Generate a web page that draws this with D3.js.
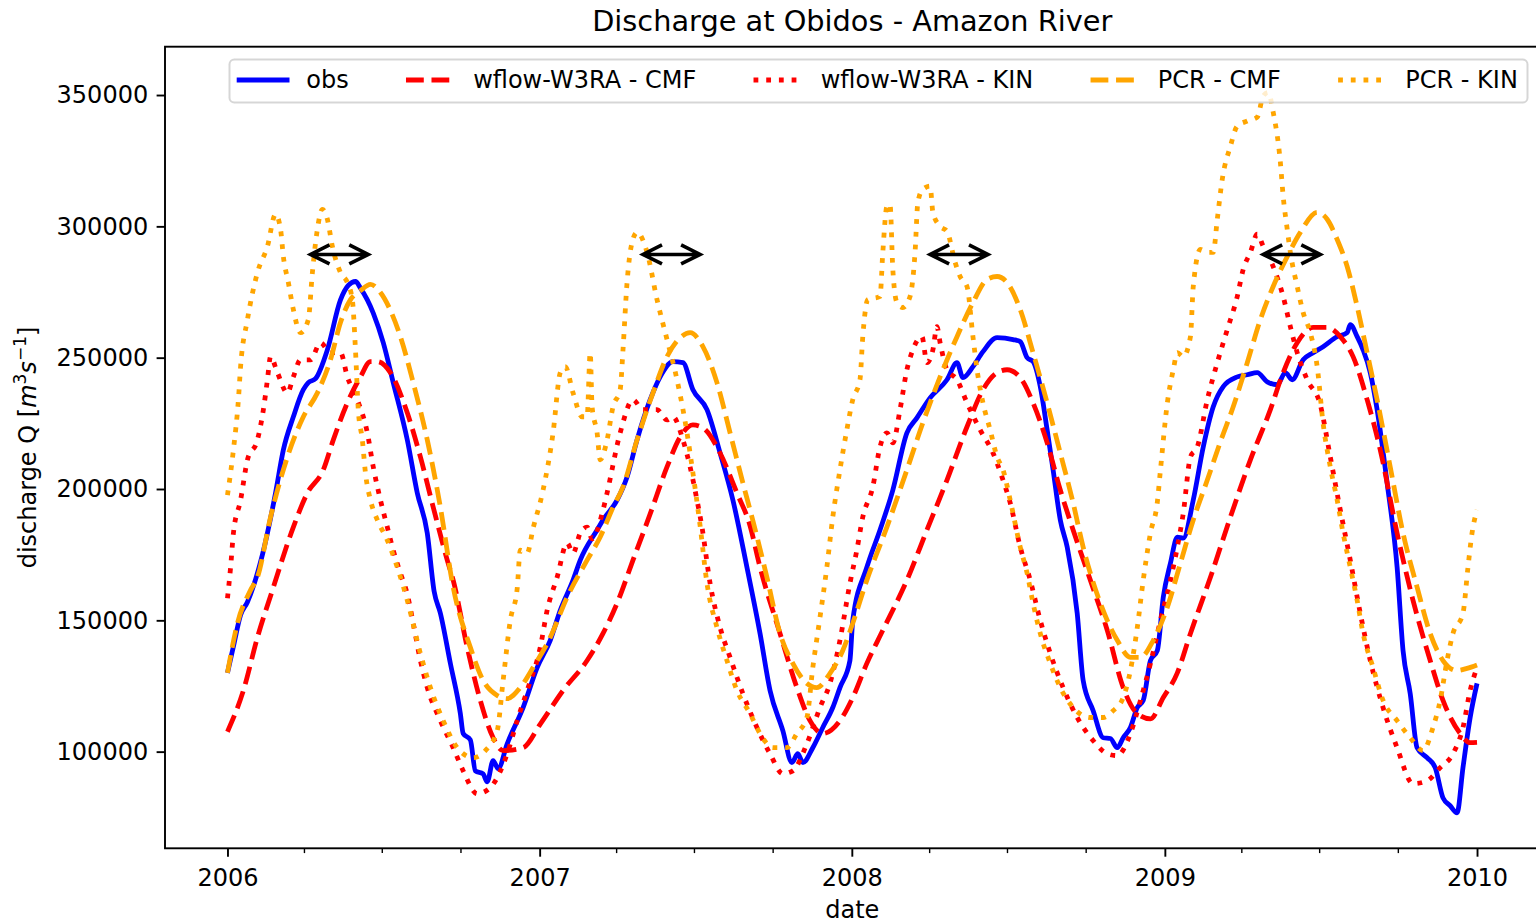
<!DOCTYPE html>
<html>
<head>
<meta charset="utf-8">
<script src="https://cdnjs.cloudflare.com/ajax/libs/d3/7.8.5/d3.min.js"></script>
<style>
  body { margin: 0; background: #fff; }
  svg { font-family: "DejaVu Sans", sans-serif; }
</style>
</head>
<body>
<svg id="chart" width="1536" height="923"></svg>
<script>
// times are decimal years, values in m3/s

var obs = [[2006.000,130000],[2006.019,140000],[2006.042,152000],[2006.064,157000],[2006.112,175000],[2006.154,198500],[2006.179,214900],[2006.211,227500],[2006.243,237800],[2006.259,240500],[2006.282,242000],[2006.320,253000],[2006.362,272000],[2006.387,277500],[2006.410,279000],[2006.426,276500],[2006.467,267000],[2006.499,255700],[2006.531,240500],[2006.576,218700],[2006.608,198500],[2006.640,183200],[2006.662,161000],[2006.682,152700],[2006.714,133600],[2006.746,114500],[2006.755,106900],[2006.778,104500],[2006.794,92700],[2006.819,91500],[2006.832,88500],[2006.851,96600],[2006.867,93500],[2006.896,103000],[2006.947,116800],[2006.992,132000],[2007.034,142400],[2007.066,153800],[2007.107,165300],[2007.130,172900],[2007.184,184400],[2007.203,188200],[2007.248,195800],[2007.280,204600],[2007.312,218700],[2007.354,234000],[2007.386,242700],[2007.427,248500],[2007.459,248100],[2007.491,237800],[2007.536,230200],[2007.578,213700],[2007.619,195800],[2007.664,170200],[2007.706,145000],[2007.738,123300],[2007.779,108000],[2007.808,95800],[2007.827,99200],[2007.843,95800],[2007.875,101500],[2007.907,109200],[2007.939,116800],[2007.962,124400],[2007.994,134700],[2008.003,150000],[2008.048,170200],[2008.090,184400],[2008.131,199600],[2008.176,221400],[2008.208,227100],[2008.250,234700],[2008.304,241600],[2008.336,248100],[2008.355,242400],[2008.387,246600],[2008.419,252300],[2008.464,257600],[2008.515,256900],[2008.538,256100],[2008.560,250000],[2008.579,248500],[2008.602,239000],[2008.624,222500],[2008.643,207300],[2008.666,188200],[2008.688,177900],[2008.720,152700],[2008.739,127100],[2008.771,115600],[2008.803,105300],[2008.826,105000],[2008.848,101500],[2008.867,105300],[2008.890,109200],[2008.912,116800],[2008.931,119500],[2008.954,134700],[2008.976,138500],[2008.995,158800],[2009.018,171800],[2009.040,181700],[2009.059,181300],[2009.091,195800],[2009.123,216000],[2009.155,231300],[2009.187,239000],[2009.232,242700],[2009.264,243500],[2009.296,244300],[2009.328,240800],[2009.360,239700],[2009.386,244300],[2009.408,241600],[2009.443,249200],[2009.475,251900],[2009.507,254200],[2009.552,258000],[2009.584,259500],[2009.594,262600],[2009.616,258000],[2009.635,253000],[2009.658,244300],[2009.680,230200],[2009.712,202300],[2009.744,170200],[2009.763,138500],[2009.786,122100],[2009.808,101500],[2009.840,97700],[2009.866,93900],[2009.891,82400],[2009.914,79400],[2009.936,76700],[2009.955,93900],[2009.978,113000],[2010.000,126000]];

var wflowCMF = [[2006.000,107600],[2006.051,123300],[2006.096,143500],[2006.144,161500],[2006.211,185500],[2006.256,198500],[2006.307,207300],[2006.339,218700],[2006.384,232800],[2006.426,242700],[2006.458,248500],[2006.480,248500],[2006.522,244300],[2006.576,229000],[2006.618,212200],[2006.659,193100],[2006.704,172900],[2006.723,165300],[2006.768,139700],[2006.810,119500],[2006.851,105300],[2006.883,100400],[2006.947,101500],[2007.002,110500],[2007.075,123300],[2007.152,134700],[2007.203,145000],[2007.248,156500],[2007.299,172900],[2007.354,190500],[2007.408,208400],[2007.450,219800],[2007.491,224400],[2007.523,223300],[2007.578,213700],[2007.632,198500],[2007.674,186000],[2007.706,170200],[2007.770,145000],[2007.824,124400],[2007.866,111800],[2007.907,106900],[2007.962,111800],[2008.003,120600],[2008.048,133600],[2008.099,146200],[2008.176,165300],[2008.240,184400],[2008.304,203400],[2008.368,223700],[2008.419,237800],[2008.464,244300],[2008.496,245400],[2008.538,242400],[2008.579,232800],[2008.624,217600],[2008.666,199600],[2008.707,184400],[2008.762,165300],[2008.816,146200],[2008.867,124400],[2008.912,114500],[2008.954,112500],[2008.995,120600],[2009.040,130000],[2009.082,145000],[2009.146,166400],[2009.210,189300],[2009.274,211100],[2009.338,230200],[2009.379,244300],[2009.424,255700],[2009.475,261500],[2009.520,261500],[2009.562,258000],[2009.603,250400],[2009.648,234000],[2009.690,214900],[2009.744,183200],[2009.795,157600],[2009.850,134700],[2009.891,119500],[2009.946,106900],[2009.978,103400],[2010.000,103500]];

var wflowKIN = [[2006.000,158400],[2006.010,170200],[2006.019,183200],[2006.042,195800],[2006.064,211100],[2006.096,218700],[2006.115,230200],[2006.128,241600],[2006.138,250400],[2006.160,244300],[2006.192,236600],[2006.211,242700],[2006.234,249200],[2006.266,249200],[2006.298,255700],[2006.330,251900],[2006.362,251900],[2006.384,242700],[2006.416,234000],[2006.448,221400],[2006.467,208400],[2006.490,195800],[2006.512,185500],[2006.531,176700],[2006.554,167900],[2006.576,160000],[2006.595,148900],[2006.618,134700],[2006.640,124400],[2006.682,111800],[2006.723,101500],[2006.755,92700],[2006.800,84000],[2006.842,86300],[2006.864,90100],[2006.896,99200],[2006.928,111800],[2006.960,123300],[2007.002,139700],[2007.024,153800],[2007.056,166400],[2007.088,179400],[2007.107,175600],[2007.130,183200],[2007.152,185500],[2007.168,181000],[2007.203,192000],[2007.216,198500],[2007.258,221400],[2007.299,234000],[2007.331,230200],[2007.376,230200],[2007.408,226300],[2007.427,227500],[2007.459,218700],[2007.482,208400],[2007.504,195800],[2007.520,185500],[2007.546,164100],[2007.578,147300],[2007.610,135900],[2007.651,122100],[2007.696,109200],[2007.738,99200],[2007.779,91600],[2007.811,92700],[2007.856,103000],[2007.898,116800],[2007.930,126000],[2007.962,142400],[2007.994,164100],[2008.016,176700],[2008.035,189300],[2008.067,200800],[2008.090,216000],[2008.112,221400],[2008.131,217600],[2008.154,230200],[2008.176,245400],[2008.195,253000],[2008.224,258000],[2008.240,248100],[2008.259,253000],[2008.272,261800],[2008.282,255700],[2008.304,245400],[2008.336,241600],[2008.368,232800],[2008.410,222500],[2008.451,213700],[2008.483,203400],[2008.506,194700],[2008.538,177900],[2008.570,165300],[2008.602,150000],[2008.634,137400],[2008.675,124400],[2008.720,113000],[2008.771,104200],[2008.816,99200],[2008.848,98500],[2008.890,106900],[2008.922,119500],[2008.954,133600],[2008.986,150000],[2009.018,165300],[2009.040,177900],[2009.059,190800],[2009.082,212200],[2009.104,216000],[2009.136,234000],[2009.168,248100],[2009.200,260700],[2009.232,273300],[2009.251,283600],[2009.274,290100],[2009.296,297000],[2009.315,292400],[2009.347,284700],[2009.379,273300],[2009.402,261800],[2009.424,251900],[2009.456,241600],[2009.498,232000],[2009.530,212200],[2009.562,192000],[2009.594,172900],[2009.626,152700],[2009.658,134700],[2009.699,116800],[2009.744,101500],[2009.795,87800],[2009.840,88900],[2009.882,93900],[2009.923,99200],[2009.955,109200],[2009.978,123300],[2010.000,132000]];

var pcrCMF = [[2006.000,130000],[2006.032,148900],[2006.074,161500],[2006.096,166400],[2006.138,189300],[2006.192,212200],[2006.243,227500],[2006.288,236600],[2006.330,249200],[2006.362,263400],[2006.394,272100],[2006.426,275500],[2006.458,277900],[2006.490,274800],[2006.522,268000],[2006.554,258000],[2006.595,240500],[2006.640,218700],[2006.682,193100],[2006.723,162600],[2006.778,139700],[2006.819,127100],[2006.864,121400],[2006.896,120200],[2006.938,124400],[2006.979,132000],[2007.034,143500],[2007.088,158800],[2007.152,172900],[2007.194,181700],[2007.235,193000],[2007.267,200800],[2007.312,218700],[2007.363,236600],[2007.408,250400],[2007.450,257600],[2007.482,259500],[2007.523,254200],[2007.568,240500],[2007.610,221400],[2007.651,202300],[2007.683,188000],[2007.728,166400],[2007.770,145000],[2007.811,133600],[2007.856,126000],[2007.888,124400],[2007.930,129800],[2007.971,138500],[2008.003,148900],[2008.048,165300],[2008.112,185500],[2008.176,207300],[2008.227,225200],[2008.282,242700],[2008.336,258000],[2008.387,271000],[2008.432,279800],[2008.464,280900],[2008.496,278600],[2008.538,268300],[2008.579,251900],[2008.624,232800],[2008.666,213700],[2008.707,194700],[2008.739,177900],[2008.794,156500],[2008.848,142400],[2008.890,135900],[2008.922,135900],[2008.963,142400],[2009.008,155000],[2009.050,171800],[2009.091,188200],[2009.136,203400],[2009.178,218000],[2009.219,231300],[2009.264,248100],[2009.306,264500],[2009.347,277100],[2009.392,288500],[2009.434,297700],[2009.488,305300],[2009.520,302700],[2009.552,295000],[2009.584,284700],[2009.616,269500],[2009.648,251900],[2009.680,234000],[2009.722,208400],[2009.763,183200],[2009.808,162600],[2009.850,145000],[2009.891,134700],[2009.936,130900],[2009.968,131700],[2010.000,133000]];

var pcrKIN = [[2006.000,197700],[2006.019,214900],[2006.035,234000],[2006.042,246600],[2006.064,264500],[2006.096,282400],[2006.128,292400],[2006.154,304600],[2006.170,298900],[2006.179,288500],[2006.195,278600],[2006.211,268300],[2006.234,259500],[2006.259,264500],[2006.272,282400],[2006.288,298900],[2006.304,306500],[2006.320,302700],[2006.336,292400],[2006.362,282400],[2006.384,278600],[2006.400,272100],[2006.410,253000],[2006.419,230200],[2006.432,218700],[2006.442,206100],[2006.458,195800],[2006.480,188200],[2006.512,180500],[2006.544,170200],[2006.576,157600],[2006.618,137400],[2006.650,124400],[2006.691,111800],[2006.736,101500],[2006.787,97700],[2006.826,100400],[2006.864,108000],[2006.883,127100],[2006.906,150000],[2006.928,162000],[2006.938,176700],[2006.960,175600],[2006.979,185000],[2007.011,199600],[2007.043,221400],[2007.066,244300],[2007.082,246600],[2007.107,236600],[2007.136,227500],[2007.152,227500],[2007.162,251900],[2007.168,231300],[2007.184,221400],[2007.194,211100],[2007.216,218700],[2007.235,231300],[2007.258,237800],[2007.267,253000],[2007.280,278600],[2007.296,293900],[2007.312,297700],[2007.344,290100],[2007.376,272100],[2007.408,256900],[2007.440,241600],[2007.472,221400],[2007.491,206100],[2007.514,186000],[2007.536,164100],[2007.568,147300],[2007.600,134700],[2007.632,123300],[2007.674,114500],[2007.706,106900],[2007.747,101500],[2007.792,101500],[2007.824,106900],[2007.856,113000],[2007.875,132000],[2007.898,151100],[2007.920,170200],[2007.939,189300],[2007.962,207300],[2007.984,222500],[2008.003,234000],[2008.026,241600],[2008.035,258000],[2008.051,272100],[2008.090,273300],[2008.099,290100],[2008.112,307600],[2008.122,308400],[2008.131,283600],[2008.144,271000],[2008.163,269100],[2008.186,273300],[2008.202,290100],[2008.211,309200],[2008.227,314100],[2008.250,315300],[2008.259,305300],[2008.282,300000],[2008.304,298100],[2008.330,286300],[2008.346,280900],[2008.368,277100],[2008.387,258000],[2008.400,245400],[2008.419,232800],[2008.442,222500],[2008.464,212200],[2008.483,207300],[2008.506,195800],[2008.538,177900],[2008.560,167900],[2008.579,156500],[2008.602,145000],[2008.634,133600],[2008.666,124400],[2008.707,116800],[2008.762,113000],[2008.803,113000],[2008.835,115600],[2008.867,120600],[2008.890,130900],[2008.912,147300],[2008.931,165300],[2008.954,183200],[2008.976,195000],[2008.986,207300],[2009.008,232800],[2009.027,245400],[2009.040,251900],[2009.059,250400],[2009.082,258000],[2009.091,277100],[2009.114,291200],[2009.136,290100],[2009.155,290100],[2009.168,302700],[2009.184,318000],[2009.210,330500],[2009.232,338200],[2009.264,340100],[2009.296,341600],[2009.315,349600],[2009.331,351000],[2009.347,343500],[2009.370,324400],[2009.379,311500],[2009.392,298900],[2009.402,290100],[2009.424,277100],[2009.443,267200],[2009.466,259500],[2009.488,246600],[2009.507,225000],[2009.530,208400],[2009.552,195800],[2009.571,183200],[2009.594,170200],[2009.616,157600],[2009.635,145000],[2009.667,132000],[2009.699,119500],[2009.744,111800],[2009.786,105300],[2009.827,100400],[2009.859,109200],[2009.882,119500],[2009.904,134700],[2009.923,145000],[2009.955,152700],[2009.971,170200],[2009.984,183200],[2010.000,192000]];

// double arrows (start, end in decimal years) at one discharge level
var arrowFrom = [2006.266, 2007.331, 2008.250, 2009.315];
var arrowTo   = [2006.451, 2007.514, 2008.435, 2009.498];
var arrowLevel = 289300;

var yTicks = [100000, 150000, 200000, 250000, 300000, 350000];
var yRange = [63200, 368400];
var xStartYear = 2006, xEndYear = 2010;

var series = [
  {name: "obs",              data: obs,       color: "#0000ff", dash: null},
  {name: "wflow-W3RA - CMF", data: wflowCMF,  color: "#ff0000", dash: "17.8,7.7"},
  {name: "wflow-W3RA - KIN", data: wflowKIN,  color: "#ff0000", dash: "4.8,7.9"},
  {name: "PCR - CMF",        data: pcrCMF,    color: "#ffa500", dash: "17.8,7.7"},
  {name: "PCR - KIN",        data: pcrKIN,    color: "#ffa500", dash: "4.8,7.9"}
];

function toDate(v){
  var yr = Math.floor(v);
  var a = new Date(yr, 0, 1), b = new Date(yr + 1, 0, 1);
  return new Date(+a + (v - yr) * (b - a));
}

var svg = d3.select("#chart");
var plotL = 165, plotT = 46.7, plotB = 848.3, plotR = 1539.5;

// matplotlib style 5% margin on the time axis
var t0 = new Date(xStartYear, 0, 1), t1 = new Date(xEndYear, 0, 1);
var pad = (t1 - t0) * 0.05;
var x = d3.scaleTime()
  .domain([new Date(+t0 - pad), new Date(+t1 + pad)])
  .range([plotL, plotR]);
var y = d3.scaleLinear().domain(yRange).range([plotB, plotT]);

svg.append("defs").append("clipPath").attr("id", "clip")
  .append("rect").attr("x", plotL).attr("y", plotT)
  .attr("width", plotR - plotL).attr("height", plotB - plotT);

// lines
var line = d3.line()
  .x(function(d){ return x(toDate(d[0])); })
  .y(function(d){ return y(d[1]); })
  .curve(d3.curveMonotoneX);

var plot = svg.append("g").attr("clip-path", "url(#clip)");
series.forEach(function(s){
  plot.append("path")
    .datum(s.data)
    .attr("d", line)
    .attr("fill", "none")
    .attr("stroke", s.color)
    .attr("stroke-width", 4.8)
    .attr("stroke-linejoin", "round")
    .attr("stroke-linecap", "butt")
    .attr("stroke-dasharray", s.dash);
});

// arrows
var ay = y(arrowLevel);
arrowFrom.forEach(function(a, i){
  var xa = x(toDate(a)), xb = x(toDate(arrowTo[i]));
  var hl = 19, hw = 9.5;
  plot.append("path")
    .attr("d", "M" + xa + "," + ay + "L" + xb + "," + ay +
      "M" + (xa + hl) + "," + (ay - hw) + "L" + xa + "," + ay + "L" + (xa + hl) + "," + (ay + hw) +
      "M" + (xb - hl) + "," + (ay - hw) + "L" + xb + "," + ay + "L" + (xb - hl) + "," + (ay + hw))
    .attr("fill", "none")
    .attr("stroke", "black")
    .attr("stroke-width", 3.6)
    .attr("stroke-linejoin", "miter");
});

// axes
var yAxis = d3.axisLeft(y).tickValues(yTicks).tickSize(8.4).tickPadding(8.4)
  .tickFormat(d3.format("d"));
var gy = svg.append("g").attr("transform", "translate(" + plotL + ",0)").call(yAxis);

var xAxis = d3.axisBottom(x).ticks(d3.timeYear.every(1)).tickSize(8.4).tickPadding(12)
  .tickFormat(d3.timeFormat("%Y"));
var gx = svg.append("g").attr("transform", "translate(0," + plotB + ")").call(xAxis);

var minor = d3.timeMonth.every(3).range(x.domain()[0], x.domain()[1])
  .filter(function(d){ return d.getMonth() !== 0; });
svg.append("g").selectAll("line").data(minor).enter().append("line")
  .attr("x1", function(d){ return x(d); }).attr("x2", function(d){ return x(d); })
  .attr("y1", plotB).attr("y2", plotB + 4.8)
  .attr("stroke", "black").attr("stroke-width", 1.4);

[gx, gy].forEach(function(g){
  g.select(".domain").remove();
  g.selectAll(".tick line").attr("stroke", "black").attr("stroke-width", 1.9);
  g.selectAll(".tick text").attr("fill", "black")
    .style("font-family", "DejaVu Sans").style("font-size", "24px");
});

svg.append("rect")
  .attr("x", plotL).attr("y", plotT)
  .attr("width", plotR - plotL).attr("height", plotB - plotT)
  .attr("fill", "none").attr("stroke", "black").attr("stroke-width", 1.9);

// title and labels
svg.append("text")
  .attr("x", (plotL + plotR) / 2).attr("y", 31)
  .attr("text-anchor", "middle")
  .style("font-size", "28.8px")
  .text("Discharge at Obidos - Amazon River");

svg.append("text")
  .attr("x", (plotL + plotR) / 2).attr("y", 918)
  .attr("text-anchor", "middle")
  .style("font-size", "24px")
  .text("date");

var yl = svg.append("text")
  .attr("transform", "translate(36," + ((plotT + plotB) / 2) + ") rotate(-90)")
  .attr("text-anchor", "middle")
  .style("font-size", "24px");
yl.append("tspan").text("discharge Q [");
yl.append("tspan").style("font-style", "italic").text("m");
yl.append("tspan").attr("dy", -10).style("font-size", "17px").text("3");
yl.append("tspan").attr("dy", 10).style("font-style", "italic").text("s");
yl.append("tspan").attr("dy", -10).style("font-size", "17px").text("\u22121");
yl.append("tspan").attr("dy", 10).text("]");

// legend (expanded across five columns)
var lgX = 229.5, lgY = 59.5, lgW = 1298, lgH = 43;
var lg = svg.append("g");
lg.append("rect")
  .attr("x", lgX).attr("y", lgY).attr("width", lgW).attr("height", lgH)
  .attr("rx", 4.8).attr("ry", 4.8)
  .attr("fill", "white").attr("fill-opacity", 0.8)
  .attr("stroke", "#cccccc").attr("stroke-opacity", 0.8).attr("stroke-width", 2);

var handleLen = 48, handleGap = 19.2, innerL = lgX + 9.6, innerR = lgX + lgW - 9.6;
var cy = lgY + lgH / 2 - 1;
var labels = series.map(function(s){
  return lg.append("text").attr("y", cy).attr("dy", "0.35em")
    .style("font-size", "24px").text(s.name);
});
var widths = labels.map(function(t){ return handleLen + handleGap + t.node().getComputedTextLength(); });
var gap = (innerR - innerL - d3.sum(widths)) / (series.length - 1);
var cx = innerL;
series.forEach(function(s, i){
  lg.append("line")
    .attr("x1", cx).attr("x2", cx + handleLen)
    .attr("y1", cy).attr("y2", cy)
    .attr("stroke", s.color).attr("stroke-width", 4.8)
    .attr("stroke-linecap", s.dash ? "butt" : "square")
    .attr("stroke-dasharray", s.dash);
  labels[i].attr("x", cx + handleLen + handleGap);
  cx += widths[i] + gap;
});
</script>
</body>
</html>
